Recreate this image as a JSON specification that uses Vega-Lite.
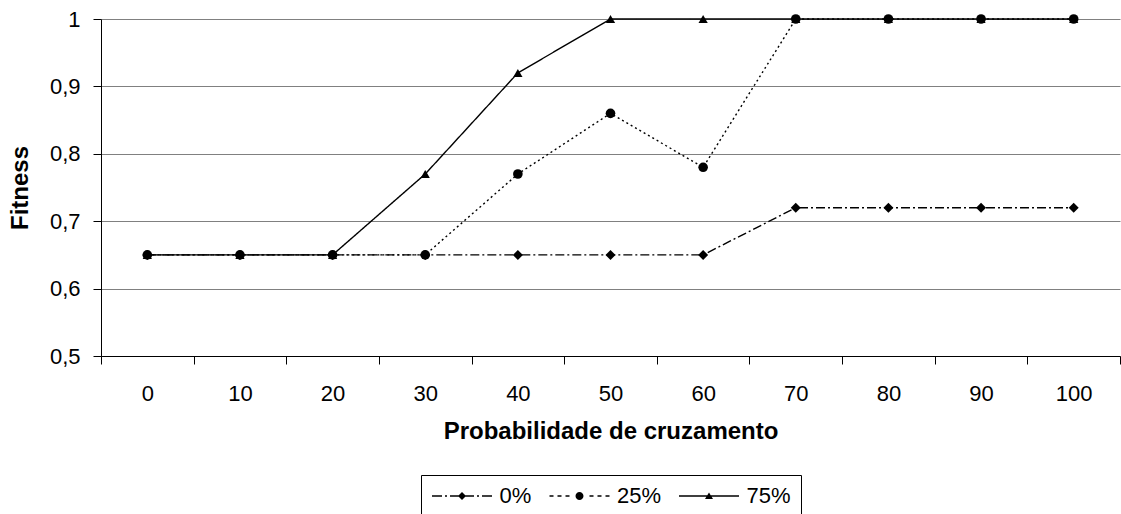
{
  "$schema": "https://vega.github.io/schema/vega-lite/v6.json",
  "width": 1019,
  "height": 337,
  "autosize": {"type": "none"},
  "padding": {"left": 101, "top": 19, "right": 1, "bottom": 158},
  "background": "white",
  "config": {
    "font": "Liberation Sans",
    "view": {"stroke": null},
    "axis": {
      "labelFont": "Liberation Sans",
      "titleFont": "Liberation Sans",
      "labelFontSize": 22,
      "titleFontSize": 24,
      "titleFontWeight": "bold",
      "labelColor": "black",
      "titleColor": "black",
      "domainColor": "black",
      "tickColor": "black",
      "tickSize": 8,
      "gridColor": "#808080",
      "gridOpacity": 1,
      "gridWidth": 1
    },
    "legend": {
      "labelFont": "Liberation Sans",
      "labelFontSize": 22,
      "labelColor": "black",
      "layout": {"bottom": {"anchor": "middle"}}
    }
  },
  "data": {
    "values": [
      {"x": 0, "serie": "0%", "fitness": 0.65},
      {"x": 10, "serie": "0%", "fitness": 0.65},
      {"x": 20, "serie": "0%", "fitness": 0.65},
      {"x": 30, "serie": "0%", "fitness": 0.65},
      {"x": 40, "serie": "0%", "fitness": 0.65},
      {"x": 50, "serie": "0%", "fitness": 0.65},
      {"x": 60, "serie": "0%", "fitness": 0.65},
      {"x": 70, "serie": "0%", "fitness": 0.72},
      {"x": 80, "serie": "0%", "fitness": 0.72},
      {"x": 90, "serie": "0%", "fitness": 0.72},
      {"x": 100, "serie": "0%", "fitness": 0.72},
      {"x": 0, "serie": "25%", "fitness": 0.65},
      {"x": 10, "serie": "25%", "fitness": 0.65},
      {"x": 20, "serie": "25%", "fitness": 0.65},
      {"x": 30, "serie": "25%", "fitness": 0.65},
      {"x": 40, "serie": "25%", "fitness": 0.77},
      {"x": 50, "serie": "25%", "fitness": 0.86},
      {"x": 60, "serie": "25%", "fitness": 0.78},
      {"x": 70, "serie": "25%", "fitness": 1},
      {"x": 80, "serie": "25%", "fitness": 1},
      {"x": 90, "serie": "25%", "fitness": 1},
      {"x": 100, "serie": "25%", "fitness": 1},
      {"x": 0, "serie": "75%", "fitness": 0.65},
      {"x": 10, "serie": "75%", "fitness": 0.65},
      {"x": 20, "serie": "75%", "fitness": 0.65},
      {"x": 30, "serie": "75%", "fitness": 0.77},
      {"x": 40, "serie": "75%", "fitness": 0.92},
      {"x": 50, "serie": "75%", "fitness": 1},
      {"x": 60, "serie": "75%", "fitness": 1},
      {"x": 70, "serie": "75%", "fitness": 1},
      {"x": 80, "serie": "75%", "fitness": 1},
      {"x": 90, "serie": "75%", "fitness": 1},
      {"x": 100, "serie": "75%", "fitness": 1}
    ]
  },
  "encoding": {
    "x": {
      "field": "x",
      "type": "ordinal",
      "scale": {"paddingInner": 0, "paddingOuter": 0},
      "axis": {
        "title": "Probabilidade de cruzamento",
        "labelAngle": 0,
        "tickBand": "extent",
        "labelPadding": 19,
        "titlePadding": 15,
        "grid": false
      }
    },
    "y": {
      "field": "fitness",
      "type": "quantitative",
      "scale": {"domain": [0.5, 1], "zero": false, "nice": false},
      "axis": {
        "title": "Fitness",
        "values": [0.5, 0.6, 0.7, 0.8, 0.9, 1],
        "format": ",.1~f",
        "labelExpr": "replace(datum.label, '.', ',')",
        "labelPadding": 13,
        "titlePadding": 17,
        "grid": true
      }
    }
  },
  "layer": [
    {
      "mark": {"type": "line", "color": "black", "strokeWidth": 1.4},
      "encoding": {
        "strokeDash": {
          "field": "serie",
          "type": "nominal",
          "scale": {"domain": ["0%", "25%", "75%"], "range": [[9, 3, 2, 3], [2, 3], [1, 0]]},
          "legend": null
        }
      }
    },
    {
      "mark": {"type": "point", "filled": true, "color": "black", "opacity": 1},
      "encoding": {
        "shape": {
          "field": "serie",
          "type": "nominal",
          "scale": {"domain": ["0%", "25%", "75%"], "range": ["diamond", "circle", "triangle-up"]},
          "legend": null
        },
        "size": {
          "field": "serie",
          "type": "nominal",
          "scale": {"domain": ["0%", "25%", "75%"], "range": [100, 85, 125]},
          "legend": null
        }
      }
    },
    {
      "transform": [{"filter": "datum.x < 0"}],
      "mark": {"type": "point", "filled": true, "color": "black", "opacity": 1},
      "encoding": {
        "shape": {
          "field": "serie",
          "type": "nominal",
          "scale": {
            "domain": ["0%", "25%", "75%"],
            "range": [
              "M0,-0.17L2.5,-0.17L2.5,0.17L0,0.17ZM3.25,-0.17L3.75,-0.17L3.75,0.17L3.25,0.17ZM4.5,-0.17L10.5,-0.17L10.5,0.17L4.5,0.17ZM11.25,-0.17L11.75,-0.17L11.75,0.17L11.25,0.17ZM12.5,-0.17L15,-0.17L15,0.17L12.5,0.17ZM7.5,-1L8.5,0L7.5,1L6.5,0Z",
              "M0,-0.17L1,-0.17L1,0.17L0,0.17ZM2,-0.17L3,-0.17L3,0.17L2,0.17ZM4,-0.17L5,-0.17L5,0.17L4,0.17ZM10,-0.17L11,-0.17L11,0.17L10,0.17ZM12,-0.17L13,-0.17L13,0.17L12,0.17ZM14,-0.17L15,-0.17L15,0.17L14,0.17ZM8.5,0A1,1,0,1,1,6.5,0A1,1,0,1,1,8.5,0Z",
              "M0,-0.17L15,-0.17L15,0.17L0,0.17ZM7.5,-0.85L8.5,0.75L6.5,0.75Z"
            ]
          },
          "legend": {
            "title": null,
            "orient": "bottom",
            "direction": "horizontal",
            "offset": 32,
            "symbolSize": 64,
            "symbolOffset": -10,
            "labelOffset": 56.5,
            "symbolStrokeWidth": 0,
            "symbolFillColor": "black",
            "symbolOpacity": 1,
            "columnPadding": 16.5,
            "padding": 10,
            "strokeColor": "black",
            "fillColor": "white",
            "encode": {
              "symbols": {
                "update": {
                  "fill": {"value": "black"},
                  "fillOpacity": {"value": 1},
                  "strokeWidth": {"value": 0},
                  "opacity": {"value": 1}
                }
              }
            }
          }
        }
      }
    }
  ],
  "resolve": {"scale": {"shape": "independent"}, "legend": {"shape": "independent"}}
}
